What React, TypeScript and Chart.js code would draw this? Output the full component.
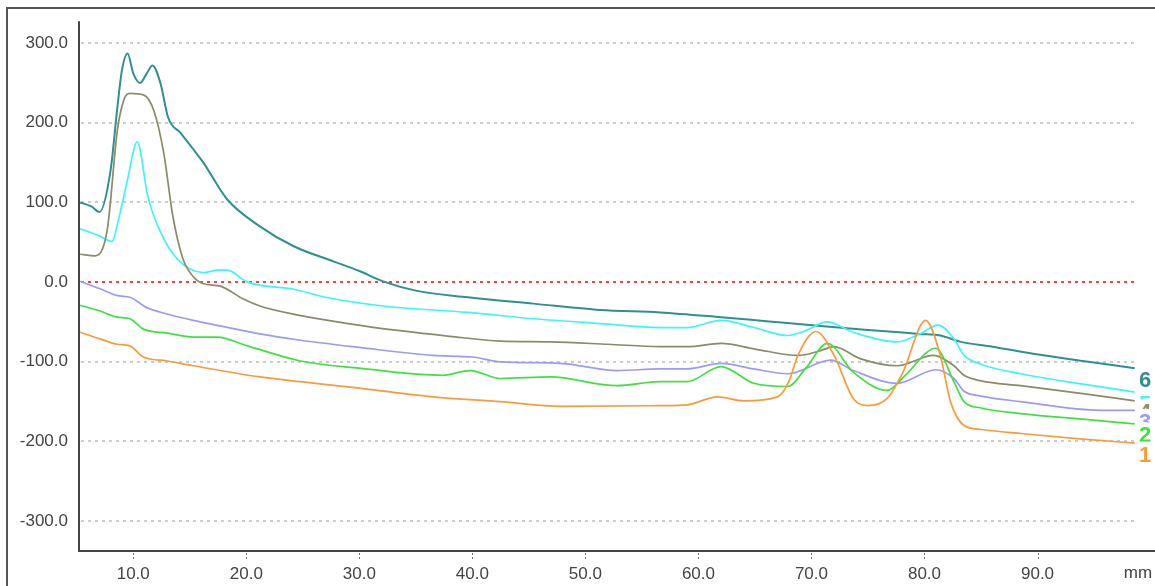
import React, { useEffect, useRef } from "react";
import { Chart, registerables } from "chart.js";

Chart.register(...registerables);

const X_TICKS = [10, 20, 30, 40, 50, 60, 70, 80, 90];
const Y_TICKS = [-300, -200, -100, 0, 100, 200, 300];
const X_UNIT = "mm";
const SERIES_LABELS = ["1", "2", "3", "4", "5", "6"];
const SERIES_COLORS = ["#f99a3c", "#40e040", "#9b9bf5", "#8c8a68", "#3cf5f5", "#2f9090"];

const x1 = [5.3, 7.0, 8.6, 9.7, 10.9, 13.0, 15.3, 21.2, 24.8, 30.0, 36.5, 42.5, 47.8, 56.6, 59.0, 61.7, 64.0, 67.0, 68.0, 68.8, 70.4, 72.0, 73.7, 75.0, 76.7, 78.1, 80.1, 81.4, 82.3, 83.5, 85.0, 88.5, 94.0, 98.6];
const y1 = [-63, -71, -78, -80, -94, -99, -105, -119, -125, -133, -144, -150, -156, -155, -154, -144, -149, -144, -125, -92, -62, -92, -146, -155, -146, -113, -48, -92, -150, -180, -185, -190, -197, -202];

const x2 = [5.3, 7.0, 8.6, 9.7, 10.9, 13.0, 15.3, 17.4, 20.1, 24.8, 30.0, 37.4, 39.8, 42.5, 46.9, 52.8, 56.6, 59.0, 62.0, 64.9, 67.9, 69.5, 71.4, 73.7, 76.7, 78.3, 81.0, 82.6, 83.5, 85.0, 88.5, 94.0, 98.6];
const y2 = [-29, -36, -44, -46, -59, -64, -69, -69, -80, -99, -108, -117, -111, -121, -119, -130, -125, -125, -106, -127, -131, -108, -77, -113, -136, -117, -83, -125, -150, -158, -165, -172, -178];

const x3 = [5.3, 7.0, 8.6, 9.7, 11.2, 13.0, 15.3, 17.7, 21.2, 24.8, 30.0, 36.5, 40.0, 42.5, 47.8, 52.8, 56.6, 59.0, 62.0, 64.9, 67.9, 71.7, 73.7, 77.6, 81.0, 82.6, 83.5, 85.0, 88.5, 95.6, 98.6];
const y3 = [1, -8, -17, -19, -32, -40, -48, -55, -65, -73, -82, -92, -94, -100, -102, -111, -109, -109, -102, -109, -115, -98, -111, -127, -110, -121, -137, -143, -150, -161, -161];

const x4 = [5.3, 6.6, 7.7, 8.6, 9.2, 9.7, 10.9, 11.8, 12.7, 13.5, 14.4, 15.3, 16.2, 17.7, 19.7, 21.2, 24.8, 29.0, 33.6, 38.0, 42.5, 46.9, 52.0, 56.6, 59.0, 62.0, 65.0, 68.8, 70.8, 72.0, 74.3, 77.6, 80.8, 82.6, 83.5, 85.0, 88.5, 94.0, 98.6];
const y4 = [35, 33, 66, 191, 230, 237, 235, 216, 162, 83, 29, 7, -2, -5, -21, -30, -42, -52, -61, -68, -74, -75, -78, -81, -81, -77, -84, -92, -86, -81, -96, -105, -92, -105, -117, -124, -130, -140, -149];

const x5 = [5.3, 7.0, 8.1, 8.8, 9.5, 10.35, 11.3, 12.4, 13.9, 16.2, 17.5, 18.3, 20.1, 24.2, 27.0, 32.1, 39.6, 45.4, 51.3, 56.6, 59.0, 62.0, 64.9, 67.9, 69.3, 71.4, 73.7, 77.6, 79.6, 81.2, 82.6, 83.5, 85.0, 88.5, 94.0, 98.6];
const y5 = [67, 58, 51, 85, 129, 176, 107, 63, 29, 12, 15, 15, 0, -9, -19, -30, -38, -46, -52, -57, -57, -48, -57, -67, -62, -50, -63, -75, -65, -54, -71, -92, -103, -115, -128, -138];

const x6 = [5.3, 6.3, 7.0, 8.0, 8.6, 9.0, 9.5, 10.0, 10.6, 11.2, 11.7, 12.4, 13.1, 14.2, 16.2, 18.3, 21.2, 24.2, 27.7, 30.0, 32.1, 35.1, 39.6, 45.4, 51.3, 56.6, 62.0, 66.0, 70.8, 75.0, 79.6, 81.4, 83.2, 86.0, 89.6, 94.0, 98.6];
const y6 = [100, 95, 88, 141, 220, 266, 287, 262, 250, 262, 272, 250, 206, 187, 150, 104, 70, 45, 26, 14, 1, -11, -19, -27, -35, -38, -44, -49, -55, -60, -65, -67, -75, -81, -90, -99, -108];

const SERIES_X = [x1, x2, x3, x4, x5, x6];
const SERIES_Y = [y1, y2, y3, y4, y5, y6];

const FONT = "'Liberation Sans', Arial, sans-serif";

const overlay = {
  id: "overlay",
  beforeDatasetsDraw(chart: any) {
    const { ctx, chartArea, scales } = chart;
    const ys = scales.y;
    ctx.save();
    ctx.lineWidth = 2;
    ctx.setLineDash([3, 4]);
    Y_TICKS.forEach((v) => {
      const py = Math.round(ys.getPixelForValue(v));
      ctx.strokeStyle = v === 0 ? "#ff3b3b" : "#cccccc";
      ctx.beginPath();
      ctx.moveTo(chartArea.left + 2, py);
      ctx.lineTo(chartArea.right, py);
      ctx.stroke();
    });
    ctx.restore();
  },
  afterDatasetsDraw(chart: any) {
    const { ctx, chartArea, scales, width } = chart;
    const xs = scales.x;
    ctx.save();
    ctx.strokeStyle = "#444";
    ctx.lineWidth = 2;
    ctx.beginPath();
    ctx.moveTo(chartArea.left, chartArea.top);
    ctx.lineTo(chartArea.left, chartArea.bottom);
    ctx.lineTo(width, chartArea.bottom);
    ctx.stroke();
    ctx.lineWidth = 1;
    ctx.strokeStyle = "#777";
    ctx.setLineDash([2, 2]);
    X_TICKS.forEach((v) => {
      const px = Math.round(xs.getPixelForValue(v)) + 0.5;
      ctx.beginPath();
      ctx.moveTo(px, chartArea.bottom + 2);
      ctx.lineTo(px, chartArea.bottom + 8);
      ctx.stroke();
    });
    ctx.setLineDash([]);
    ctx.fillStyle = "#444";
    ctx.font = `17px ${FONT}`;
    ctx.textAlign = "center";
    ctx.textBaseline = "middle";
    ctx.fillText(X_UNIT, chartArea.right + 1, chartArea.bottom + 22);
    const order = [5, 4, 3, 2, 1, 0];
    ctx.font = `bold 22px ${FONT}`;
    ctx.textBaseline = "alphabetic";
    order.forEach((i) => {
      const meta = chart.getDatasetMeta(i);
      const last = meta.data[meta.data.length - 1];
      const y0 = last.y;
      ctx.fillStyle = "#ffffff";
      ctx.fillRect(chartArea.right + 1, y0 - 1.5, width - chartArea.right, 22);
      ctx.fillStyle = SERIES_COLORS[i];
      ctx.fillText(SERIES_LABELS[i], chartArea.right + 8, y0 + 18.5);
    });
    ctx.restore();
  },
};

export default function App() {
  const ref = useRef<HTMLCanvasElement | null>(null);
  useEffect(() => {
    if (!ref.current) return;
    const datasets = SERIES_X.map((xs, i) => ({
      label: SERIES_LABELS[i],
      data: xs.map((x, j) => ({ x, y: SERIES_Y[i][j] })),
      borderColor: SERIES_COLORS[i],
      borderWidth: i === 5 ? 2 : 1.7,
      pointRadius: 0,
      fill: false,
      cubicInterpolationMode: "monotone" as const,
    }));
    const chart = new Chart(ref.current, {
      type: "line",
      data: { datasets },
      plugins: [overlay],
      options: {
        animation: false,
        responsive: false,
        layout: { padding: { left: 0, top: 21, right: 18, bottom: 0 } },
        plugins: { legend: { display: false }, tooltip: { enabled: false } },
        scales: {
          x: {
            type: "linear",
            min: 5.2,
            max: 98.8,
            grid: { display: false, drawTicks: false },
            border: { display: false },
            afterBuildTicks: (s: any) => {
              s.ticks = X_TICKS.map((v) => ({ value: v }));
            },
            afterFit: (s: any) => {
              s.height = 35;
            },
            ticks: {
              autoSkip: false,
              maxRotation: 0,
              padding: 13,
              color: "#444",
              font: { family: FONT, size: 17 },
              callback: (v: any) => Number(v).toFixed(1),
            },
          },
          y: {
            type: "linear",
            min: -337.5,
            max: 327.5,
            grid: { display: false, drawTicks: false },
            border: { display: false },
            afterBuildTicks: (s: any) => {
              s.ticks = Y_TICKS.map((v) => ({ value: v }));
            },
            afterFit: (s: any) => {
              s.width = 79;
            },
            ticks: {
              padding: 11,
              color: "#444",
              font: { family: FONT, size: 17 },
              callback: (v: any) => Number(v).toFixed(1),
            },
          },
        },
      },
    });
    return () => chart.destroy();
  }, []);

  return (
    <div style={{ position: "absolute", left: 0, top: 0, width: 1155, height: 586, overflow: "hidden", background: "#fff" }}>
      <div
        style={{
          position: "absolute",
          left: 6,
          top: 7,
          width: 1200,
          height: 640,
          borderLeft: "2px solid #555",
          borderTop: "2px solid #555",
        }}
      />
      <canvas ref={ref} width={1155} height={586} style={{ position: "absolute", left: 0, top: 0 }} />
    </div>
  );
}
